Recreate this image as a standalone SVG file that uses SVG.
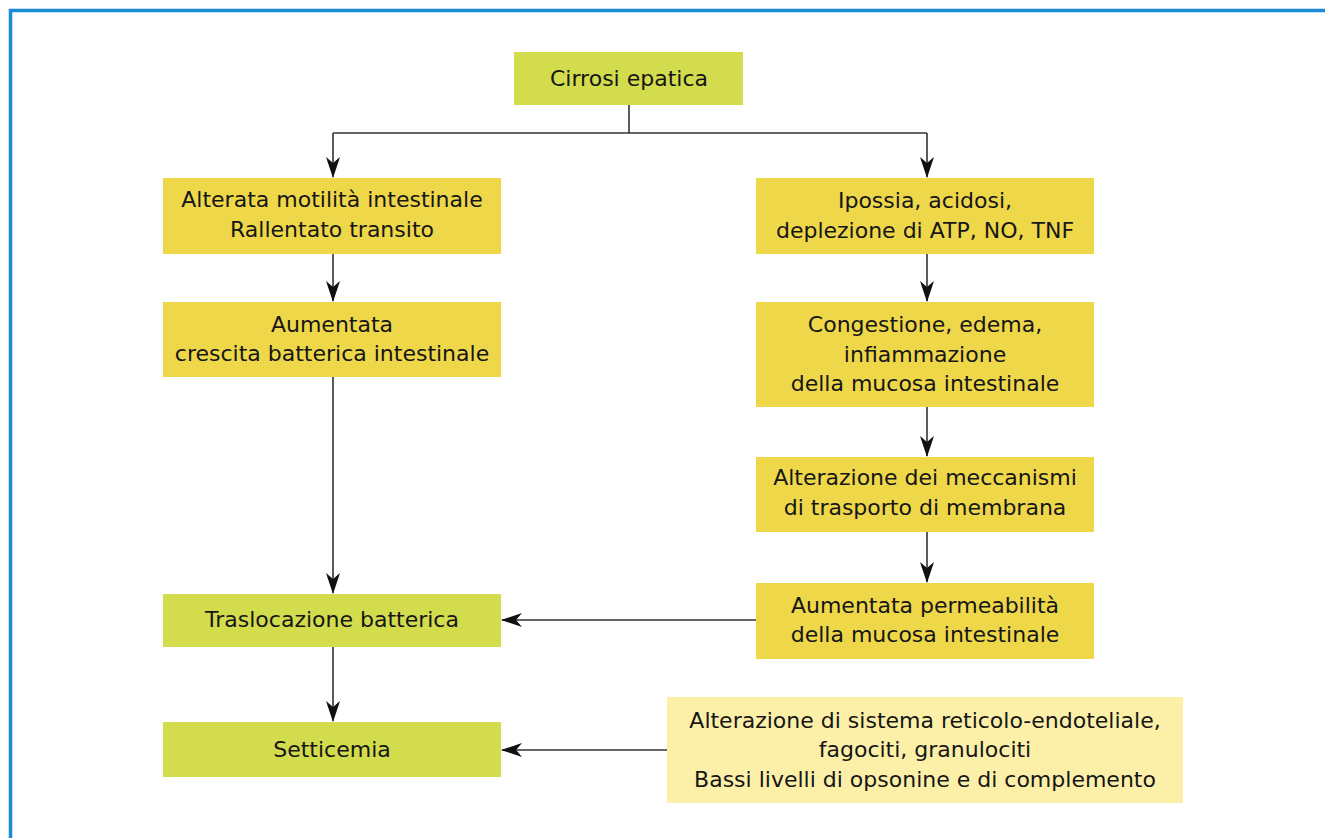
<svg xmlns="http://www.w3.org/2000/svg" width="1325" height="838" viewBox="0 0 1325 838">
<style>
text{font-family:"DejaVu Sans","Liberation Sans",sans-serif;font-size:22px;fill:#161616;text-anchor:middle;dominant-baseline:central}
.g{fill:#d3dc4c}
.y{fill:#efd74a}
.p{fill:#fcf0a8}
.c{stroke:#333;stroke-width:1.6;fill:none}
</style>
<defs>
<marker id="ah" viewBox="0 0 21 14" refX="20" refY="7" markerWidth="21" markerHeight="14" markerUnits="userSpaceOnUse" orient="auto">
<path d="M0,0 L21,7 L0,14 L6,7 Z" fill="#111"/>
</marker>
</defs>
<rect x="0" y="0" width="1325" height="838" fill="#fff"/>
<path d="M10.5,838 V10.5 H1325" fill="none" stroke="#1a8ad6" stroke-width="3.5"/>
<g id="connectors">
<path class="c" d="M629,105 V133"/>
<path class="c" d="M333,133 H927"/>
<path class="c" d="M333,133 V177" marker-end="url(#ah)"/>
<path class="c" d="M927,133 V177" marker-end="url(#ah)"/>
<path class="c" d="M333,254 V301" marker-end="url(#ah)"/>
<path class="c" d="M333,377 V593" marker-end="url(#ah)"/>
<path class="c" d="M333,647 V721" marker-end="url(#ah)"/>
<path class="c" d="M927,254 V301" marker-end="url(#ah)"/>
<path class="c" d="M927,407 V456" marker-end="url(#ah)"/>
<path class="c" d="M927,532 V582" marker-end="url(#ah)"/>
<path class="c" d="M756,620 H502" marker-end="url(#ah)"/>
<path class="c" d="M667,750 H502" marker-end="url(#ah)"/>
</g>
<g id="n-cirrosi"><rect class="g" x="514" y="52" width="229" height="53"/><text x="629" y="78">Cirrosi epatica</text></g>
<g id="n-motilita"><rect class="y" x="163" y="178" width="338" height="76"/><text x="332" y="199">Alterata motilità intestinale</text><text x="332" y="229">Rallentato transito</text></g>
<g id="n-crescita"><rect class="y" x="163" y="302" width="338" height="75"/><text x="332" y="324">Aumentata</text><text x="332" y="353">crescita batterica intestinale</text></g>
<g id="n-traslocazione"><rect class="g" x="163" y="594" width="338" height="53"/><text x="332" y="619">Traslocazione batterica</text></g>
<g id="n-setticemia"><rect class="g" x="163" y="722" width="338" height="55"/><text x="332" y="749">Setticemia</text></g>
<g id="n-ipossia"><rect class="y" x="756" y="178" width="338" height="76"/><text x="925" y="200">Ipossia, acidosi,</text><text x="925" y="230">deplezione di ATP, NO, TNF</text></g>
<g id="n-congestione"><rect class="y" x="756" y="302" width="338" height="105"/><text x="925" y="324">Congestione, edema,</text><text x="925" y="354">infiammazione</text><text x="925" y="383">della mucosa intestinale</text></g>
<g id="n-alterazione"><rect class="y" x="756" y="457" width="338" height="75"/><text x="925" y="477">Alterazione dei meccanismi</text><text x="925" y="507">di trasporto di membrana</text></g>
<g id="n-permeabilita"><rect class="y" x="756" y="583" width="338" height="76"/><text x="925" y="605">Aumentata permeabilità</text><text x="925" y="634">della mucosa intestinale</text></g>
<g id="n-sistema"><rect class="p" x="667" y="697" width="516" height="106"/><text x="925" y="720">Alterazione di sistema reticolo-endoteliale,</text><text x="925" y="749">fagociti, granulociti</text><text x="925" y="779">Bassi livelli di opsonine e di complemento</text></g>
</svg>
